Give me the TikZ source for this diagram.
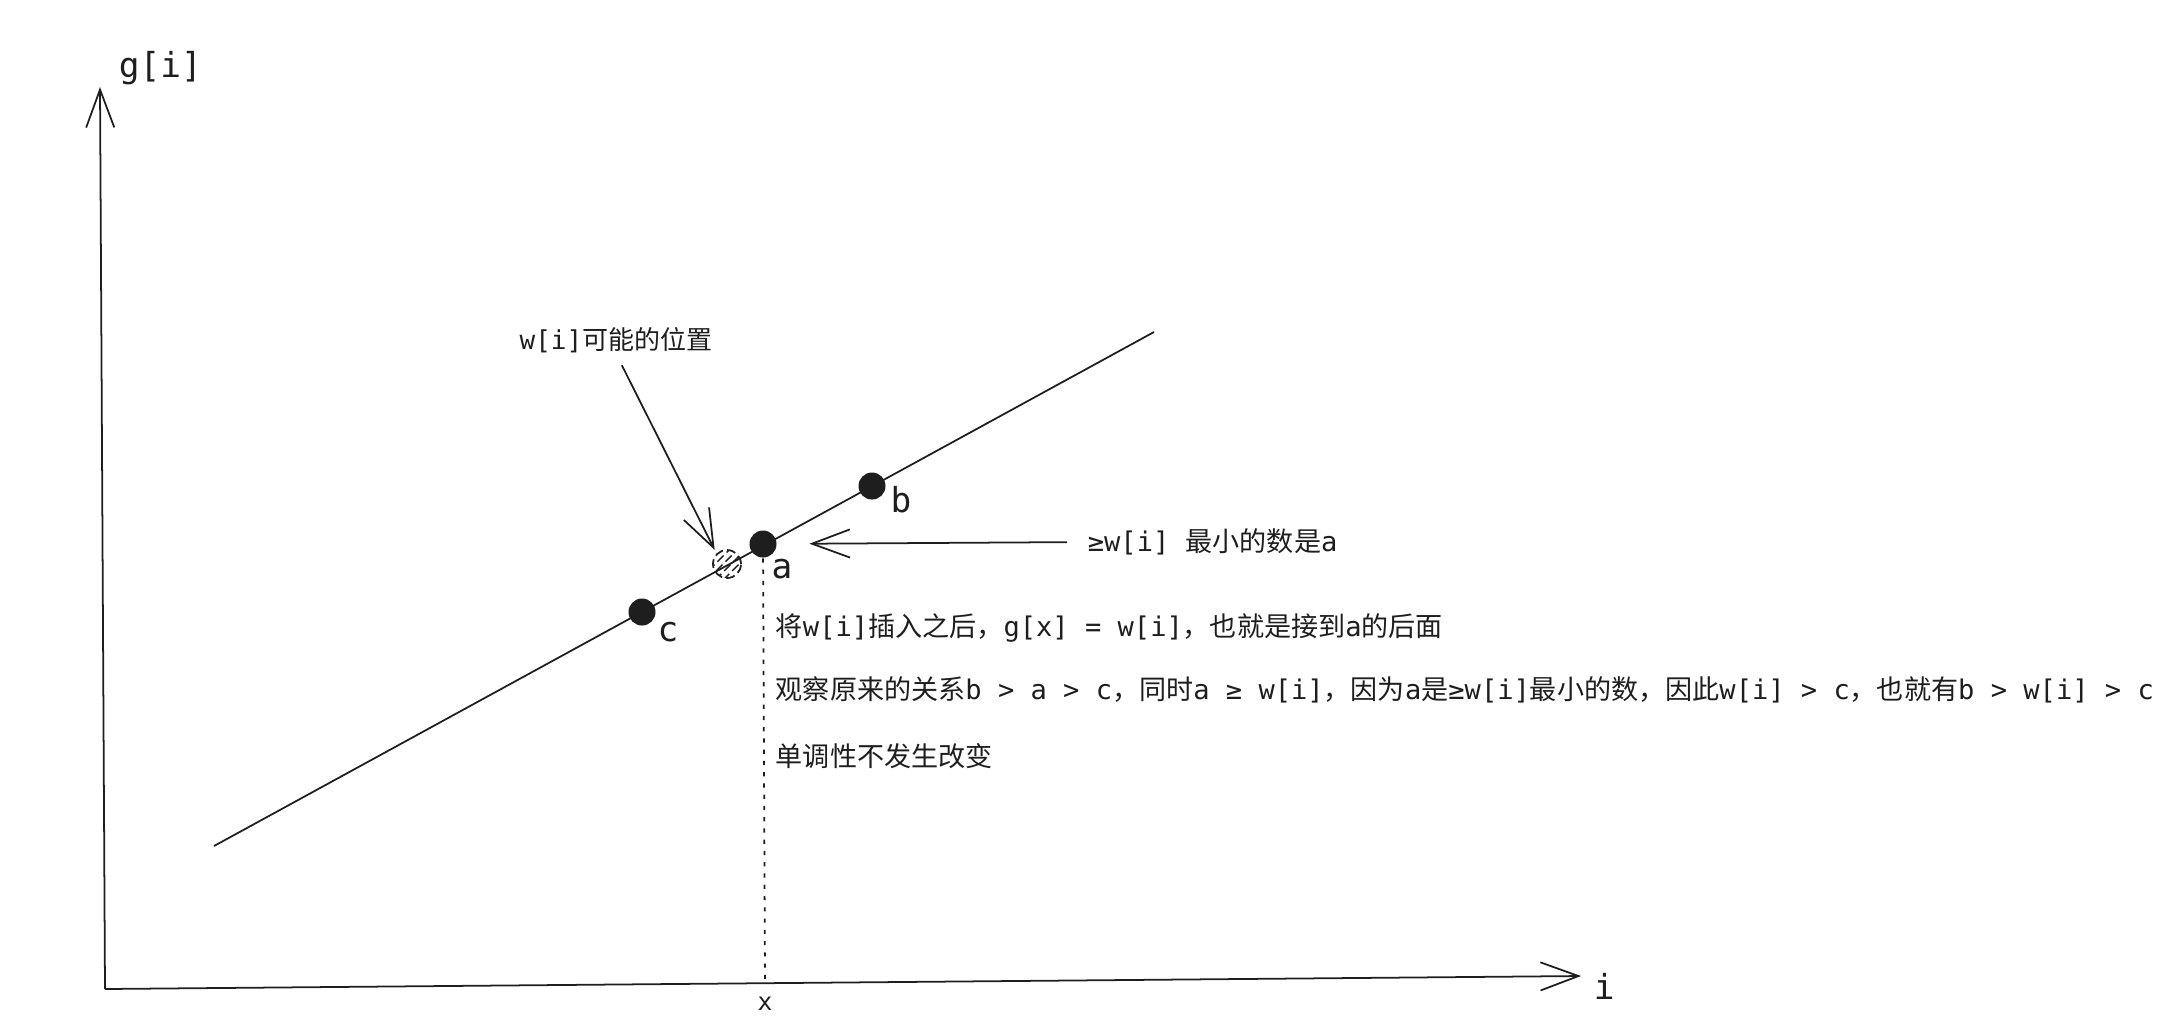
\documentclass[tikz,border=0pt]{standalone}
\usepackage{fontspec}
\setmainfont{DejaVu Sans Mono}
\newfontfamily\cjk{Noto Sans CJK SC}
\newcommand{\zh}[1]{{\cjk #1}}
\usetikzlibrary{arrows.meta}
\definecolor{ink}{HTML}{1E1E1E}

\begin{document}
\begin{tikzpicture}[x=0.01cm,y=-0.01cm,>={Straight Barb[length=10.8pt,width=8pt]},line width=0.5pt,ink,
    dot/.style={circle,fill=ink,minimum size=0.27cm,inner sep=0},
    hatch/.style={circle,draw,dash pattern=on 2.5pt off 1.2pt,minimum size=0.28cm,inner sep=0,
        path picture={\foreach \d in {-12,-4,...,13}
            \draw[line width=0.4pt,shift={(path picture bounding box.center)}] (\d-16,16) -- (\d+16,-16);}},
    big/.style={inner sep=0,font=\fontsize{9.8pt}{11pt}\selectfont},
    note/.style={inner sep=0,anchor=west,font=\fontsize{7.7pt}{9pt}\selectfont}]
    \useasboundingbox (0,0) rectangle (2178,1035);

    % axes
    \coordinate (O) at (105,989);
    \coordinate (ytip) at (100,87);
    \coordinate (xtip) at (1581,976);
    \coordinate (xfoot) at (765,983);
    \node (gi) [big,anchor=west] at (118,68) {g[i]};
    \node (ilab) [big,anchor=west] at (1593,986) {i};
    \node (xlab) [inner sep=0,font=\fontsize{7pt}{8pt}\selectfont] at (765,1004) {x};

    \draw[->] (O) -- (ytip);
    \draw[->] (O) -- (xtip);

    % the line with its points
    \coordinate (l1) at (214,846);
    \coordinate (l2) at (1154,332);
    \draw (l1) -- (l2);

    \node (c) [dot] at (642,612) {};
    \node (a) [dot] at (763,544) {};
    \node (b) [dot] at (872,486) {};
    \node (wpt) [hatch] at (727,564) {};

    \node (clab) [big] at (668,632) {c};
    \node (alab) [big] at (782,569) {a};
    \node (blab) [big] at (901,500) {b};

    \draw[dash pattern=on 1.2pt off 2pt] (a) -- (xfoot);

    % notes
    \node (wpos) [inner sep=0,font=\fontsize{7.4pt}{8pt}\selectfont] at (616,340) {w[i]\zh{可能的位置}};
    \node (ge) [note] at (1087,542) {≥w[i] \zh{最小的数是}a};

    \draw[->,shorten <=0.13cm,shorten >=0.04cm] (wpos.south) -- (wpt.north west);
    \draw[->,shorten <=0.2cm,shorten >=0.32cm] (ge.west) -- (a);

    \node (note1) [note] at (775,628) {\zh{将}w[i]\zh{插入之后，}g[x] = w[i]\zh{，也就是接到}a\zh{的后面}};
    \node (note2) [note] at (775,690) {\zh{观察原来的关系}b > a > c\zh{，同时}a ≥ w[i]\zh{，因为}a\zh{是}≥w[i]\zh{最小的数，因此}w[i] > c\zh{，也就有}b > w[i] > c};
    \node (note3) [note] at (775,756) {\zh{单调性不发生改变}};
\end{tikzpicture}
\end{document}
